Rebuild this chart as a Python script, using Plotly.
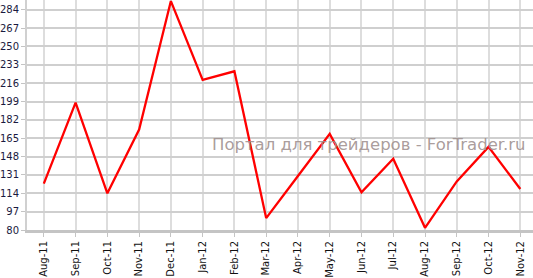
import plotly.graph_objects as go

months = ["Aug-11", "Sep-11", "Oct-11", "Nov-11", "Dec-11", "Jan-12", "Feb-12", "Mar-12",
          "Apr-12", "May-12", "Jun-12", "Jul-12", "Aug-12", "Sep-12", "Oct-12", "Nov-12"]
values = [123, 198, 114, 173, 292, 219, 227, 91, 130, 169, 115, 146, 82, 125, 157, 118]
y_ticks = [80, 97, 114, 131, 148, 165, 182, 199, 216, 233, 250, 267, 284]
watermark = "Портал для трейдеров - ForTrader.ru"

fig = go.Figure()
fig.add_trace(go.Scatter(
    x=list(range(len(months))), y=values, mode="lines",
    line=dict(color="#ff0000", width=2.3), hoverinfo="skip", cliponaxis=False,
))

fig.add_annotation(
    text=watermark, xref="paper", yref="paper", x=0.99, y=0.37,
    xanchor="right", yanchor="middle", showarrow=False,
    font=dict(family="DejaVu Sans", size=16.5, color="rgba(160,145,143,0.9)"),
)

fig.update_layout(
    width=533, height=278,
    margin=dict(l=25, r=0, t=0, b=42),
    paper_bgcolor="white", plot_bgcolor="white",
    showlegend=False,
    font=dict(family="DejaVu Sans", size=10, color="#1a1a40"),
)
fig.update_xaxes(
    range=[-0.53, 15.4],
    tickmode="array", tickvals=list(range(len(months))), ticktext=months,
    tickangle=-90, tickfont=dict(size=10, color="#111111"),
    showgrid=True, gridcolor="#dddddd", gridwidth=2,
    showline=True, linecolor="#c4c4c4", linewidth=3,
    ticks="outside", ticklen=4, tickcolor="#c4c4c4", zeroline=False,
)
fig.update_yaxes(
    range=[80, 293],
    tickmode="array", tickvals=y_ticks,
    showgrid=True, gridcolor="#cfcfcf", gridwidth=1.5,
    showline=True, linecolor="#d0d0d0", linewidth=2,
    ticks="outside", ticklen=4, tickcolor="#c4c4c4", zeroline=False,
    tickfont=dict(size=10, color="#1a1a40"),
)

fig.write_html("out.html")
